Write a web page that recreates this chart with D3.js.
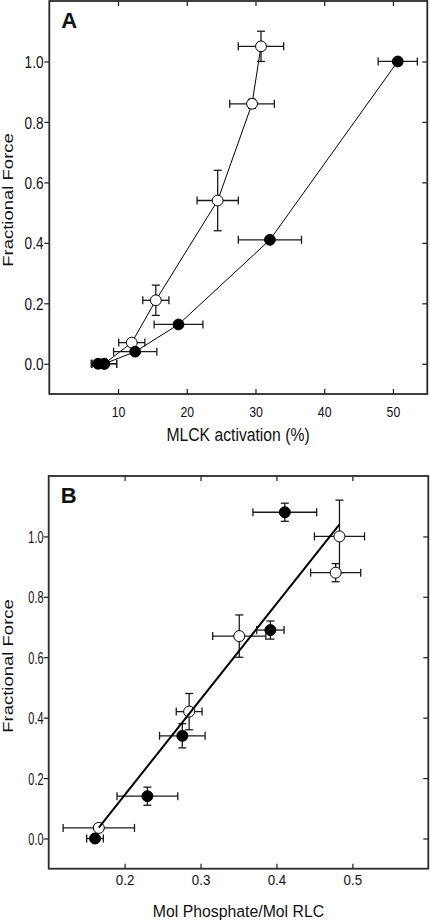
<!DOCTYPE html>
<html>
<head>
<meta charset="utf-8">
<script src="https://cdn.jsdelivr.net/npm/d3@7"></script>
<style>
  html, body { margin: 0; padding: 0; background: #fff; }
  svg { display: block; }
  text { font-family: "Liberation Sans", Arial, sans-serif; fill: #111; }
</style>
</head>
<body>
<svg id="chart" width="430" height="922"></svg>
<script>
// ---------- Panel A data: MLCK activation (%) vs Fractional Force ----------
const aOpenX     = [8.0, 12.0, 15.5, 24.5, 29.5, 30.8];
const aOpenY     = [0.0, 0.07, 0.21, 0.54, 0.86, 1.05];
const aOpenXErr  = [1.8, 1.9, 1.9, 3.0, 3.25, 3.3];
const aOpenYErr  = [0.0, 0.01, 0.05, 0.10, 0.015, 0.05];

const aFilledX    = [7.1, 8.0, 12.5, 18.8, 32.1, 50.7];
const aFilledY    = [0.0, 0.0, 0.04, 0.13, 0.41, 1.0];
const aFilledXErr = [1.0, 1.8, 3.15, 3.55, 4.6, 2.85];
const aFilledYErr = [0, 0, 0, 0, 0, 0];

const aXTicks = [10, 20, 30, 40, 50];
const yTicks  = [0.0, 0.2, 0.4, 0.6, 0.8, 1.0];

// ---------- Panel B data: Mol Phosphate/Mol RLC vs Fractional Force ----------
const bOpenX     = [0.166, 0.285, 0.351, 0.478, 0.483];
const bOpenY     = [0.035, 0.42, 0.67, 0.88, 1.0];
const bOpenXErr  = [0.047, 0.017, 0.035, 0.033, 0.033];
const bOpenYErr  = [0.0, 0.06, 0.07, 0.03, 0.12];

const bFilledX    = [0.161, 0.23, 0.276, 0.392, 0.411];
const bFilledY    = [0.0, 0.14, 0.34, 0.69, 1.08];
const bFilledXErr = [0.011, 0.04, 0.03, 0.018, 0.042];
const bFilledYErr = [0.0, 0.03, 0.04, 0.03, 0.03];

const bFitX = [0.166, 0.483];
const bFitY = [0.036, 1.04];

const bXTicks = [0.2, 0.3, 0.4, 0.5];

// ---------- drawing ----------
const svg = d3.select("#chart");
const INK = "#1a1a1a";

function toPoints(xs, ys, xe, ye) {
  return xs.map((x, i) => ({ x, y: ys[i], xe: xe[i], ye: ye[i] }));
}

function panel(cfg) {
  const g = svg.append("g");
  const x = d3.scaleLinear().domain(cfg.xDomain).range([cfg.left, cfg.right]);
  const y = d3.scaleLinear().domain([-0.1, 1.2]).range([cfg.bottom, cfg.top]);

  const left = g.append("g").attr("transform", `translate(${cfg.left},0)`)
    .call(d3.axisLeft(y).tickValues(yTicks).tickSize(5).tickSizeOuter(0)
      .tickFormat(d3.format(".1f")));
  left.selectAll("text")
    .attr("x", 0).attr("dy", "0.36em")
    .style("font-size", cfg.yTickFont + "px")
    .attr("transform", `translate(${cfg.yTickX - cfg.left},0) scale(${cfg.yTickScale},1)`);

  const bottom = g.append("g").attr("transform", `translate(0,${cfg.bottom})`)
    .call(d3.axisBottom(x).tickValues(cfg.xTicks).tickSize(-5).tickSizeOuter(0)
      .tickFormat(cfg.xFormat));
  bottom.selectAll("text")
    .attr("y", 0).attr("dy", 0)
    .style("font-size", cfg.xTickFont + "px")
    .attr("transform", `translate(0,${cfg.xTickBaseline - cfg.bottom}) scale(${cfg.xTickScale},1)`);

  g.append("g").attr("transform", `translate(0,${cfg.top})`)
    .call(d3.axisTop(x).tickValues(cfg.xTicks).tickSize(-5).tickSizeOuter(0).tickFormat(""));
  g.append("g").attr("transform", `translate(${cfg.right},0)`)
    .call(d3.axisRight(y).tickValues(yTicks).tickSize(-5).tickSizeOuter(0).tickFormat(""));

  g.selectAll(".domain").remove();
  g.selectAll(".tick line").attr("stroke", INK).attr("stroke-width", 1.2);

  g.append("rect")
    .attr("x", cfg.left).attr("y", cfg.top)
    .attr("width", cfg.right - cfg.left).attr("height", cfg.bottom - cfg.top)
    .attr("fill", "none").attr("stroke", "#2a2a2a").attr("stroke-width", 1.8);

  g.append("text")
    .attr("transform", `translate(${cfg.xLabelX},${cfg.xLabelY}) scale(${cfg.xLabelScale},1)`)
    .attr("text-anchor", "middle").style("font-size", cfg.xLabelFont + "px")
    .text(cfg.xLabel);
  g.append("text")
    .attr("transform", `translate(${cfg.yLabelX},${cfg.yLabelY}) rotate(-90) scale(1,${cfg.yLabelScale})`)
    .attr("text-anchor", "middle").style("font-size", "18.5px")
    .text("Fractional Force");
  g.append("text")
    .attr("x", cfg.left + 12).attr("y", cfg.top + cfg.letterDy)
    .style("font-size", "22px").style("font-weight", "bold")
    .text(cfg.letter);

  return { g, x, y };
}

function errorBars(g, x, y, pts) {
  const eb = g.append("g").attr("stroke", INK).attr("stroke-width", 1.3).attr("fill", "none");
  pts.forEach(p => {
    if (p.xe > 0) {
      eb.append("line").attr("x1", x(p.x - p.xe)).attr("x2", x(p.x + p.xe))
        .attr("y1", y(p.y)).attr("y2", y(p.y));
      [p.x - p.xe, p.x + p.xe].forEach(v =>
        eb.append("line").attr("x1", x(v)).attr("x2", x(v))
          .attr("y1", y(p.y) - 4).attr("y2", y(p.y) + 4));
    }
    if (p.ye > 0) {
      eb.append("line").attr("x1", x(p.x)).attr("x2", x(p.x))
        .attr("y1", y(p.y - p.ye)).attr("y2", y(p.y + p.ye));
      [p.y - p.ye, p.y + p.ye].forEach(v =>
        eb.append("line").attr("x1", x(p.x) - 4).attr("x2", x(p.x) + 4)
          .attr("y1", y(v)).attr("y2", y(v)));
    }
  });
}

function markers(g, x, y, pts, fill, r) {
  g.append("g").selectAll("circle").data(pts).join("circle")
    .attr("cx", d => x(d.x)).attr("cy", d => y(d.y)).attr("r", r)
    .attr("fill", fill).attr("stroke", "#000").attr("stroke-width", 1);
}

// ---- Panel A ----
const A = panel({
  left: 49.3, right: 427.3, top: 1, bottom: 394,
  xDomain: [0, 55], xTicks: aXTicks, xFormat: d3.format("d"),
  yTickX: 43.5, yTickFont: 17, yTickScale: 0.8,
  xTickBaseline: 417, xTickFont: 15, xTickScale: 0.82,
  xLabel: "MLCK activation (%)", xLabelX: 238, xLabelY: 441, xLabelFont: 18.5, xLabelScale: 0.85,
  yLabelX: 12.5, yLabelY: 200, yLabelScale: 0.8,
  letter: "A", letterDy: 27
});
const aOpen = toPoints(aOpenX, aOpenY, aOpenXErr, aOpenYErr);
const aFilled = toPoints(aFilledX, aFilledY, aFilledXErr, aFilledYErr);
const lineA = d3.line().x(d => A.x(d.x)).y(d => A.y(d.y));
A.g.append("path").datum(aOpen).attr("d", lineA).attr("fill", "none").attr("stroke", "#000").attr("stroke-width", 1);
A.g.append("path").datum(aFilled).attr("d", lineA).attr("fill", "none").attr("stroke", "#000").attr("stroke-width", 1);
errorBars(A.g, A.x, A.y, aOpen);
errorBars(A.g, A.x, A.y, aFilled);
markers(A.g, A.x, A.y, aOpen, "#fff", 5.4);
markers(A.g, A.x, A.y, aFilled, "#000", 5.4);

// ---- Panel B ----
const B = panel({
  left: 48.7, right: 428.3, top: 476, bottom: 868.7,
  xDomain: [0.1, 0.6], xTicks: bXTicks, xFormat: d3.format(".1f"),
  yTickX: 43.5, yTickFont: 16.5, yTickScale: 0.66,
  xTickBaseline: 885, xTickFont: 14.5, xTickScale: 0.92,
  xLabel: "Mol Phosphate/Mol RLC", xLabelX: 238.5, xLabelY: 917, xLabelFont: 17, xLabelScale: 0.93,
  yLabelX: 12.5, yLabelY: 666, yLabelScale: 0.8,
  letter: "B", letterDy: 27
});
const bOpen = toPoints(bOpenX, bOpenY, bOpenXErr, bOpenYErr);
const bFilled = toPoints(bFilledX, bFilledY, bFilledXErr, bFilledYErr);
errorBars(B.g, B.x, B.y, bOpen);
errorBars(B.g, B.x, B.y, bFilled);
markers(B.g, B.x, B.y, bFilled, "#000", 5.5);
markers(B.g, B.x, B.y, bOpen, "#fff", 5.5);
const fit = bFitX.map((v, i) => ({ x: v, y: bFitY[i] }));
B.g.append("path").datum(fit)
  .attr("d", d3.line().x(d => B.x(d.x)).y(d => B.y(d.y)))
  .attr("fill", "none").attr("stroke", "#000").attr("stroke-width", 2);
</script>
</body>
</html>
